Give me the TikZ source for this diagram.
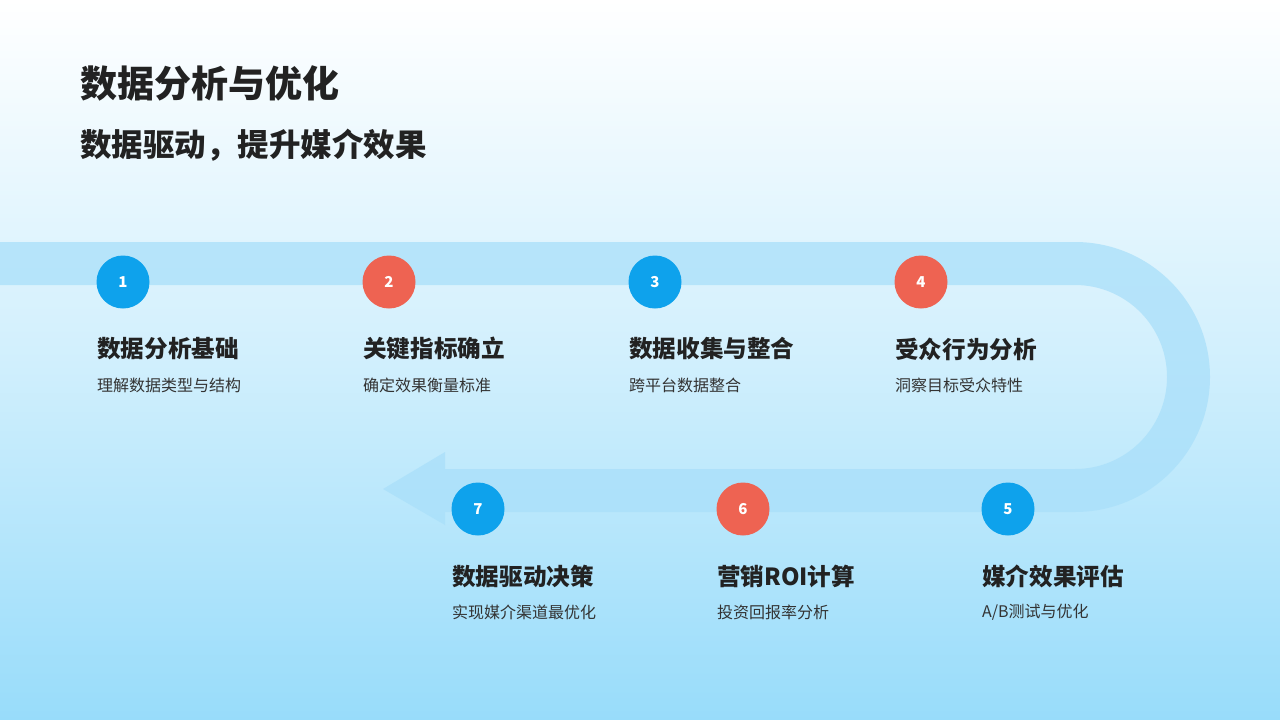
\documentclass[tikz,border=0pt]{standalone}
\usepackage{fontspec}
\setmainfont{Noto Sans CJK SC}
\usetikzlibrary{shapes.geometric}
\definecolor{bgtop}{HTML}{FFFFFF}
\definecolor{bgbot}{HTML}{98DCFA}
\definecolor{band}{HTML}{A9DFFA}
\definecolor{cblue}{HTML}{0EA2EC}
\definecolor{cred}{HTML}{EE6352}
\definecolor{txt}{HTML}{222222}
\definecolor{sub}{HTML}{333333}
\tikzset{
  num/.style={circle,minimum size=53pt,inner sep=0pt,text=white,font=\fontsize{15}{15}\selectfont\bfseries},
  ttl/.style={anchor=west,inner sep=0pt,text=txt,font=\fontsize{23.6}{24}\selectfont\bfseries},
  stl/.style={anchor=west,inner sep=0pt,text=sub,font=\fontsize{16}{16}\selectfont}
}
\begin{document}
\begin{tikzpicture}[x=1pt,y=-1pt]
\shade[top color=bgtop,bottom color=bgbot,middle color=bgtop!55!bgbot] (0,0) rectangle (1280,720);
\useasboundingbox (0,0) rectangle (1280,720);
\fill[band,opacity=0.75] (0,242) -- (1075,242) arc[start angle=-90,end angle=90,radius=135] -- (445,512) -- (445,525) -- (383,489) -- (445,452) -- (445,469) -- (1075,469) arc[start angle=90,end angle=-90,radius=92] -- (0,285) -- cycle;
\node[anchor=west,inner sep=0pt,text=txt,font=\fontsize{37}{37}\selectfont\bfseries] (t1) at (80,83) {数据分析与优化};
\node[anchor=west,inner sep=0pt,text=txt,font=\fontsize{31.5}{32}\selectfont\bfseries] (t2) at (80,145) {数据驱动，提升媒介效果};
\node[num,fill=cblue] (n1) at (123,282) {1};
\node[num,fill=cred] (n2) at (389,282) {2};
\node[num,fill=cblue] (n3) at (655,282) {3};
\node[num,fill=cred] (n4) at (921,282) {4};
\node[num,fill=cblue] (n5) at (1008,509) {5};
\node[num,fill=cred] (n6) at (743,509) {6};
\node[num,fill=cblue] (n7) at (478,509) {7};
\node[ttl] (a1) at (97,349) {数据分析基础};
\node[stl] (b1) at (97,385) {理解数据类型与结构};
\node[ttl] (a2) at (363,349) {关键指标确立};
\node[stl] (b2) at (363,385) {确定效果衡量标准};
\node[ttl] (a3) at (629,349) {数据收集与整合};
\node[stl] (b3) at (629,385) {跨平台数据整合};
\node[ttl] (a4) at (895,349) {受众行为分析};
\node[stl] (b4) at (895,385) {洞察目标受众特性};
\node[ttl] (a5) at (982,576) {媒介效果评估};
\node[stl] (b5) at (982,612) {A/B测试与优化};
\node[ttl] (a6) at (717,576) {营销ROI计算};
\node[stl] (b6) at (717,612) {投资回报率分析};
\node[ttl] (a7) at (452,576) {数据驱动决策};
\node[stl] (b7) at (452,612) {实现媒介渠道最优化};
\end{tikzpicture}
\end{document}
